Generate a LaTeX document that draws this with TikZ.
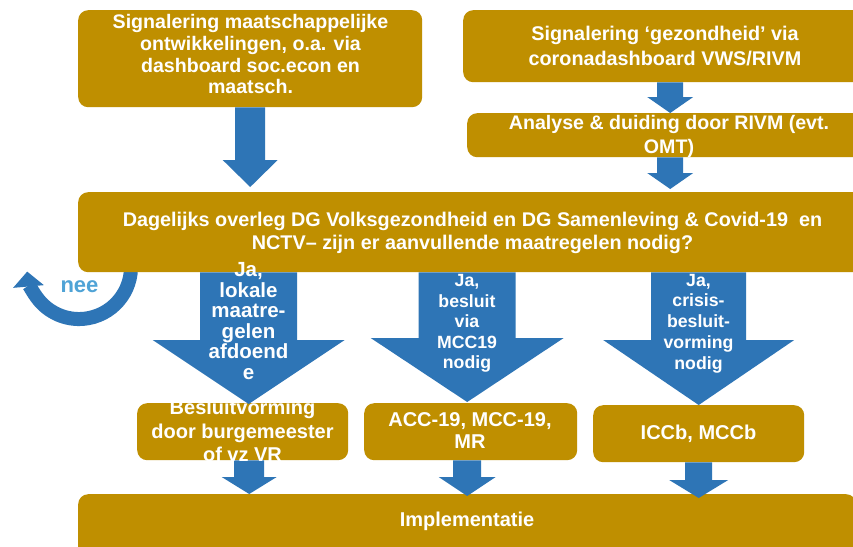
\documentclass[tikz,border=0pt]{standalone}
\usepackage{fontspec}
\setmainfont{Liberation Sans}
\usetikzlibrary{calc,arrows.meta}
\definecolor{gold}{RGB}{191,143,0}
\definecolor{ablue}{RGB}{46,117,182}
\definecolor{neeblue}{RGB}{79,163,214}
% block arrow: #1 start, #2 tip, #3 shaft half width, #4 head half width, #5 head length
\newcommand\blockarr[5]{%
  \fill[ablue] let \p1=#1, \p2=#2 in
    (\x1-#3,\y1) -- (\x1+#3,\y1) -- (\x1+#3,\y2+#5) -- (\x1+#4,\y2+#5)
    -- (\x1,\y2) -- (\x1-#4,\y2+#5) -- (\x1-#3,\y2+#5) -- cycle;}
\tikzset{
  box/.style={fill=gold, rounded corners=10pt, inner sep=0pt, anchor=north west},
  txt/.style={text=white, align=center, inner sep=0pt,
    font=\bfseries\fontsize{20}{23.5}\selectfont},
  atxt/.style={text=white, align=center, inner sep=0pt,
    font=\bfseries\fontsize{17.7}{20.4}\selectfont},
}
\begin{document}
\begin{tikzpicture}[x=1pt,y=-1pt]
\clip (0,0) rectangle (853,546);
\fill[white] (0,0) rectangle (853,546);

% "nee" loop (under the middle box)
\coordinate (arcstart) at (130.2,258);
\draw[ablue, line width=14pt, -{Triangle[width=30pt,length=15pt]}]
  (arcstart) arc[start angle=-10, end angle=175, radius=52];
\node[text=neeblue, inner sep=0pt, font=\bfseries\fontsize{22}{24}\selectfont] (nee) at (79.5,287) {nee};

% boxes
\node[box, minimum width=344pt, minimum height=97pt] (tl) at (78,10) {};
\node[box, minimum width=414pt, minimum height=72pt] (tr) at (463,10) {};
\node[box, minimum width=406pt, minimum height=44pt] (an) at (467,113) {};
\node[box, minimum width=789pt, minimum height=80pt] (mid) at (78,192) {};
\node[box, minimum width=211pt, minimum height=57pt] (ba) at (137,403) {};
\node[box, minimum width=213pt, minimum height=57pt] (bb) at (364,403) {};
\node[box, minimum width=211pt, minimum height=57pt] (bc) at (593,405) {};
\node[box, minimum width=778pt, minimum height=70pt] (imp) at (78,494) {};

% connectors (block arrows)
\blockarr{(tl.south)}{($(mid.north -| tl.south)+(0pt,5pt)$)}{15pt}{27.5pt}{27pt}
\blockarr{(tr.south)}{(an.north -| tr.south)}{13pt}{23pt}{16pt}
\blockarr{(an.south)}{($(mid.north -| an.south)+(0pt,3pt)$)}{13pt}{23pt}{16pt}
\blockarr{($(ba.north |- mid.south)+(6pt,0pt)$)}{($(ba.north)+(6pt,-1pt)$)}{48.5pt}{96pt}{64pt}
\blockarr{($(bb.north |- mid.south)+(-3.5pt,0pt)$)}{($(bb.north)+(-3.5pt,1pt)$)}{48.5pt}{96.5pt}{64pt}
\blockarr{($(bc.north |- mid.south)+(0pt,0pt)$)}{($(bc.north)+(0pt,0pt)$)}{47.5pt}{95.5pt}{65pt}
\blockarr{($(ba.south)+(6.5pt,0pt)$)}{($(imp.north -| ba.south)+(6.5pt,0pt)$)}{15pt}{27.5pt}{17pt}
\blockarr{($(bb.south)+(-3.5pt,0pt)$)}{($(imp.north -| bb.south)+(-3.5pt,-2pt)$)}{14pt}{28.5pt}{19pt}
\blockarr{(bc.south)}{($(imp.north -| bc.south)+(0pt,-4pt)$)}{13.5pt}{29.5pt}{18pt}

% texts
\node[txt, font=\bfseries\fontsize{19.6}{21.7}\selectfont] (tltxt) at (250.5,54.4)
  {Signalering maatschappelijke\\ontwikkelingen, o.a. via\\dashboard soc.econ en\\maatsch.};
\node[txt, font=\bfseries\fontsize{19.8}{25}\selectfont] (trtxt) at (665,45.8)
  {Signalering ‘gezondheid’ via\\coronadashboard VWS/RIVM};
\node[txt, font=\bfseries\fontsize{19.6}{24}\selectfont] (antxt) at (669,136.8)
  {Analyse \& duiding door RIVM (evt.\\OMT)};
\node[txt, font=\bfseries\fontsize{19.8}{23}\selectfont] (midtxt) at (472.5,233.4)
  {Dagelijks overleg DG Volksgezondheid en DG Samenleving \& Covid-19~ en\\NCTV– zijn er aanvullende maatregelen nodig?};
\node[atxt, font=\bfseries\fontsize{20.5}{20.6}\selectfont] (a1txt) at (248.5,321)
  {Ja,\\lokale\\maatre-\\gelen\\afdoend\\e};
\node[atxt] (a2txt) at (467,323.5)
  {Ja,\\besluit\\via\\MCC19\\nodig};
\node[atxt, font=\bfseries\fontsize{17.7}{20.75}\selectfont] (a3txt) at (698.5,323.5)
  {Ja,\\crisis-\\besluit-\\vorming\\nodig};
\node[txt] (batxt) at (242.5,431.3)
  {Besluitvorming\\door burgemeester\\of vz VR};
\node[txt, font=\bfseries\fontsize{20}{22}\selectfont] (bbtxt) at (470,430.8)
  {ACC-19, MCC-19,\\MR};
\node[txt] (bctxt) at (698.5,434.2) {ICCb, MCCb};
\node[txt] (imptxt) at (467,521.7) {Implementatie};
\end{tikzpicture}
\end{document}
